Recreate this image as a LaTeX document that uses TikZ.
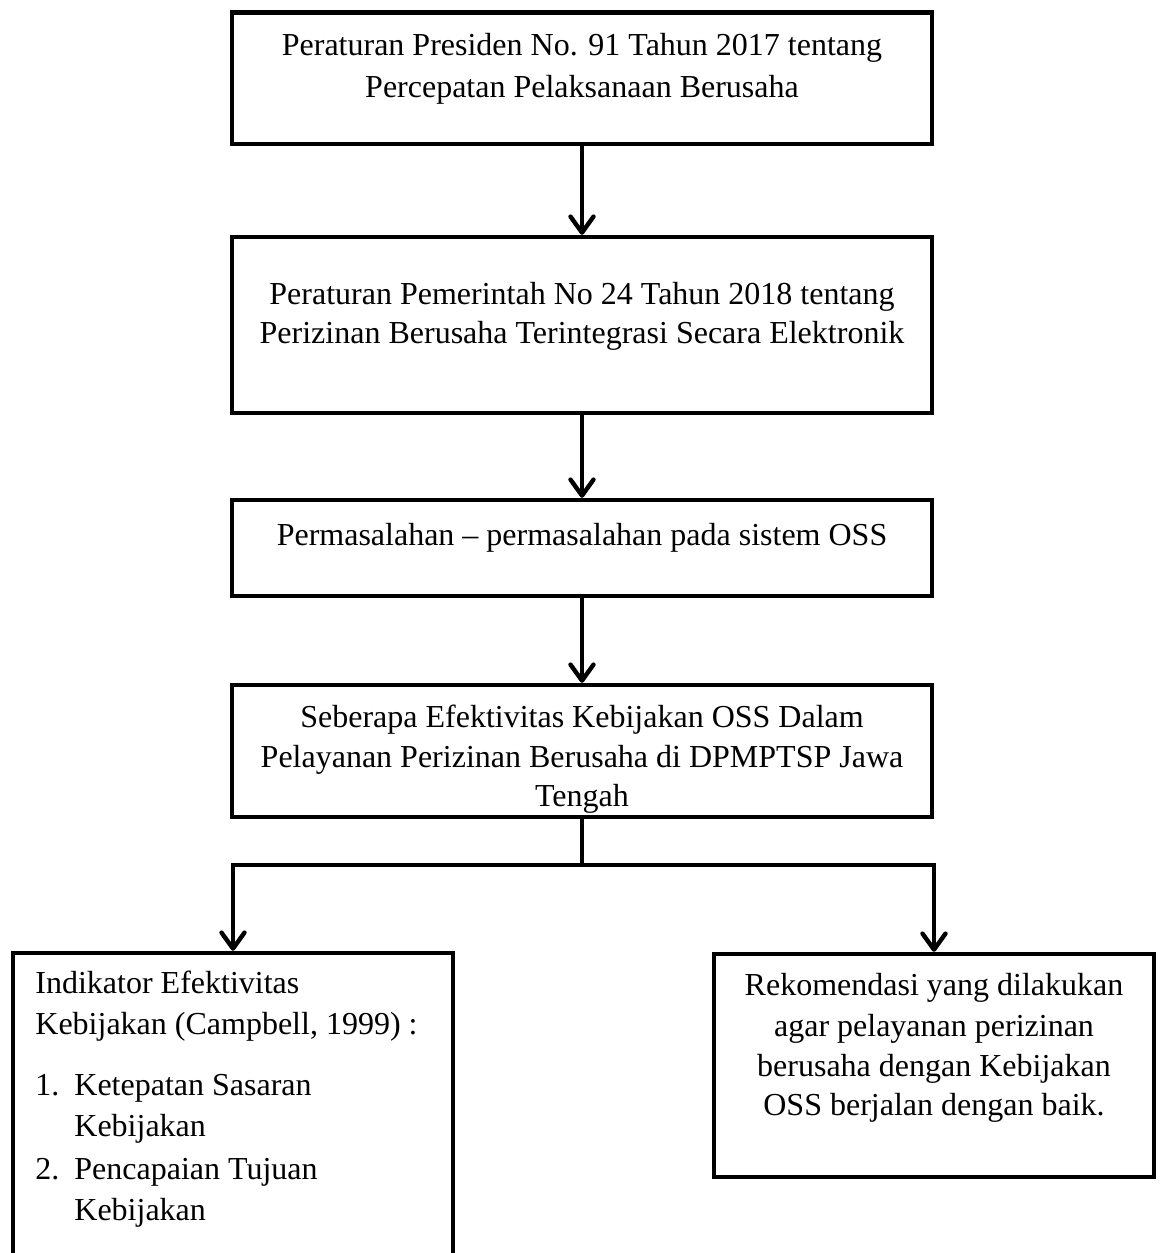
\documentclass[tikz,border=0pt]{standalone}
\usepackage{fontspec}
\setmainfont{Liberation Serif}
\usetikzlibrary{arrows.meta}
\tikzset{
  box/.style={draw=black, line width=2.2pt, fill=none, inner sep=0pt, minimum width=350pt},
  txt/.style={inner sep=0pt, anchor=base, font=\fontsize{16pt}{20.5pt}\selectfont},
  txtl/.style={txt, anchor=base west},
  conn/.style={line width=2.2pt},
  arr/.style={conn, -{Straight Barb[round, length=8pt, width=11.5pt]}}
}
\begin{document}
\begin{tikzpicture}[x=0.5pt, y=-0.5pt]
\useasboundingbox (0,0) rectangle (1160,1253);
\clip (0,0) rectangle (1160,1253);

% boxes
\node[box, minimum height=65.75pt] (b1) at (582,78.25) {};
\node[box, minimum height=88pt] (b2) at (582,325) {};
\node[box, minimum height=48pt] (b3) at (582,548) {};
\node[box, minimum height=66pt] (b4) at (582,751) {};
\node[box, minimum width=220pt, minimum height=173.5pt] (lb) at (233,1126.5) {};
\node[box, minimum width=220pt, minimum height=111.5pt] (rb) at (934,1065.5) {};

% box 1 text
\node[txt] (t1a) at (582,55) {Peraturan Presiden No. 91 Tahun 2017 tentang};
\node[txt] (t1b) at (582,97) {Percepatan Pelaksanaan Berusaha};
% box 2 text
\node[txt] (t2a) at (582,304) {Peraturan Pemerintah No 24 Tahun 2018 tentang};
\node[txt] (t2b) at (582,343) {Perizinan Berusaha Terintegrasi Secara Elektronik};
% box 3 text
\node[txt] (t3a) at (582,545) {Permasalahan – permasalahan pada sistem OSS};
% box 4 text (clipped by the box like the original)
\begin{scope}
\clip (234,687) rectangle (930,814);
\node[txt] (t4a) at (582,727) {Seberapa Efektivitas Kebijakan OSS Dalam};
\node[txt] (t4b) at (582,767) {Pelayanan Perizinan Berusaha di DPMPTSP Jawa};
\node[txt] (t4c) at (582,806) {Tengah};
\end{scope}
% left box text
\node[txtl] (l1) at (35,993) {Indikator Efektivitas};
\node[txtl] (l2) at (35,1034) {Kebijakan (Campbell, 1999) :};
\node[txtl] (l3n) at (35,1095) {1.};
\node[txtl] (l3) at (74,1095) {Ketepatan Sasaran};
\node[txtl] (l4) at (74,1136) {Kebijakan};
\node[txtl] (l5n) at (35,1179) {2.};
\node[txtl] (l5) at (74,1179) {Pencapaian Tujuan};
\node[txtl] (l6) at (74,1220) {Kebijakan};
% right box text
\node[txt] (r1) at (934,995) {Rekomendasi yang dilakukan};
\node[txt] (r2) at (934,1036) {agar pelayanan perizinan};
\node[txt] (r3) at (934,1076) {berusaha dengan Kebijakan};
\node[txt] (r4) at (934,1115) {OSS berjalan dengan baik.};

% connectors
\coordinate (j) at (582,865);
\draw[arr] (b1.south) -- (b2.north);
\draw[arr] (b2.south) -- (b3.north);
\draw[arr] (b3.south) -- (b4.north);
\draw[conn] (b4.south) -- (j);
\draw[arr] (j) -| (lb.north);
\draw[arr] (j) -| (rb.north);
\end{tikzpicture}
\end{document}
